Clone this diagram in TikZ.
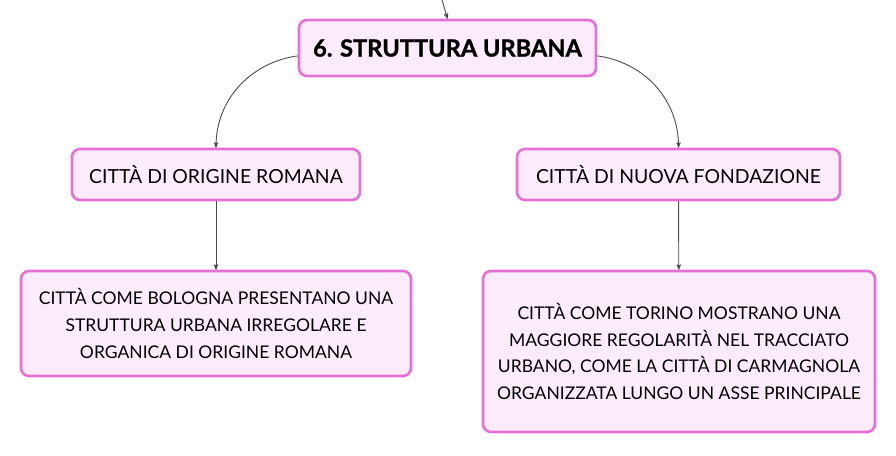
\documentclass[tikz,border=0pt]{standalone}
\usepackage{fontspec}
\setmainfont{Lato}
\usetikzlibrary{arrows,positioning}

\begin{document}
\begin{tikzpicture}[->,>=stealth',shorten >=0pt,x=1pt,y=-1pt,
                    line width=0.9pt,draw=black!70]
  \tikzstyle{box}=[rectangle,rounded corners=8pt,draw=pinkline,fill=pinkfill,
                   line width=2.6pt,text=black,align=center,inner sep=0pt]
  \tikzstyle{topic}=[box,minimum width=297pt,minimum height=56pt,
                     font=\fontsize{23.6}{26}\selectfont\bfseries\addfontfeature{FakeBold=1.2}]
  \tikzstyle{branch}=[box,minimum width=288pt,minimum height=51pt,
                      font=\fontsize{19.4}{26}\selectfont]
  \tikzstyle{leaf}=[box,font=\fontsize{17.5}{26.7}\selectfont]
  \definecolor{pinkline}{HTML}{E86FD6}
  \definecolor{pinkfill}{HTML}{FCEBFA}

  \useasboundingbox (0,0) rectangle (896,455);

  \coordinate (in) at (442,0);
  \node[topic] (T) at (447.5,48) {6. STRUTTURA URBANA};
  \node[branch] (L) at (216,174.5) {CITTÀ DI ORIGINE ROMANA};
  \node[branch,minimum width=323pt] (R) at (678.5,174.5) {CITTÀ DI NUOVA FONDAZIONE};
  \node[leaf,minimum width=390pt,minimum height=105pt] (LL) at (216,323.5)
       {CITTÀ COME BOLOGNA PRESENTANO UNA\\STRUTTURA URBANA IRREGOLARE E\\ORGANICA DI ORIGINE ROMANA};
  \node[leaf,minimum width=392pt,minimum height=161pt] (RR) at (679,351.5)
       {CITTÀ COME TORINO MOSTRANO UNA\\MAGGIORE REGOLARITÀ NEL TRACCIATO\\URBANO, COME LA CITTÀ DI CARMAGNOLA\\ORGANIZZATA LUNGO UN ASSE PRINCIPALE};

  \path (in) edge (T.north)
        (T.183) edge[out=188,in=90] (L.north)
        (T.357) edge[out=-8,in=90] (R.north)
        (L) edge (LL)
        (R) edge (RR);
\end{tikzpicture}
\end{document}
